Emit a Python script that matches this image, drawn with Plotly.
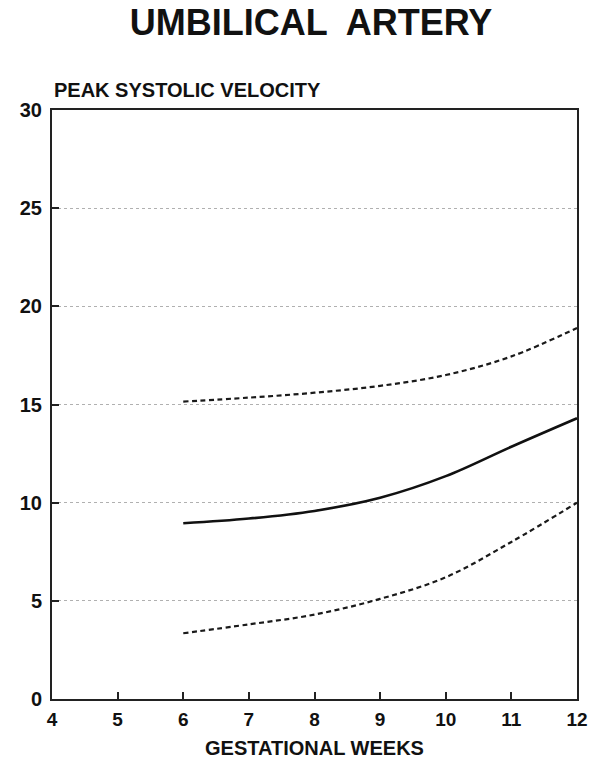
import plotly.graph_objects as go

weeks = [6, 7, 8, 9, 10, 11, 12]
mean_psv = [8.95, 9.19, 9.58, 10.25, 11.35, 12.85, 14.3]
upper_psv = [15.15, 15.35, 15.6, 15.95, 16.5, 17.45, 18.9]
lower_psv = [3.35, 3.8, 4.3, 5.1, 6.2, 8.0, 10.0]

x_ticks = [4, 5, 6, 7, 8, 9, 10, 11, 12]
y_ticks = [0, 5, 10, 15, 20, 25, 30]

FONT = "Liberation Sans, Arial, sans-serif"
W, H = 597, 765

fig = go.Figure()
dash_style = dict(color="#1a1a1a", width=2.2, dash="5px,3.5px", shape="spline")
fig.add_trace(go.Scatter(x=weeks, y=upper_psv, mode="lines", line=dash_style,
                         showlegend=False, hoverinfo="skip"))
fig.add_trace(go.Scatter(x=weeks, y=mean_psv, mode="lines",
                         line=dict(color="#111", width=2.6, shape="spline"),
                         showlegend=False, hoverinfo="skip"))
fig.add_trace(go.Scatter(x=weeks, y=lower_psv, mode="lines", line=dash_style,
                         showlegend=False, hoverinfo="skip"))

fig.update_layout(
    width=W, height=H,
    margin=dict(l=52, r=20, t=110, b=66, autoexpand=False),
    paper_bgcolor="white", plot_bgcolor="white",
    font=dict(family=FONT, color="#111"),
    title=dict(text="<b>UMBILICAL  ARTERY</b>", x=311 / W, xanchor="center", xref="container",
               yref="container", y=1 - 22 / H, yanchor="middle",
               font=dict(size=36, family=FONT, color="#111")),
    xaxis=dict(range=[4, 12], tickvals=x_ticks, ticktext=[f"<b>{v}</b>" for v in x_ticks],
               automargin=False,
               showgrid=False, zeroline=False, showline=True, linecolor="#222", linewidth=2,
               mirror=True, ticks="inside", ticklen=7, tickwidth=1.5, tickcolor="#222",
               ticklabelstandoff=2,
               tickfont=dict(size=19, family=FONT, color="#111"),
               title=dict(text="<b>GESTATIONAL WEEKS</b>", standoff=12,
                          font=dict(size=20, family=FONT, color="#111"))),
    yaxis=dict(range=[0, 30], tickvals=y_ticks, ticktext=[f"<b>{v}</b>" for v in y_ticks],
               automargin=False,
               showgrid=True, gridcolor="#b0b0b0", griddash="dot", gridwidth=1,
               zeroline=False, showline=True, linecolor="#222", linewidth=2,
               mirror=True, ticks="inside", ticklen=7, tickwidth=1.5, tickcolor="#222",
               ticklabelstandoff=4,
               tickfont=dict(size=20, family=FONT, color="#111")),
)

fig.add_annotation(text="<b>PEAK SYSTOLIC VELOCITY</b>", xref="paper", yref="paper",
                   x=0.0, y=1.0, xanchor="left", yanchor="bottom", yshift=7, showarrow=False,
                   font=dict(size=20, family=FONT, color="#111"))

fig.write_html("out.html")
